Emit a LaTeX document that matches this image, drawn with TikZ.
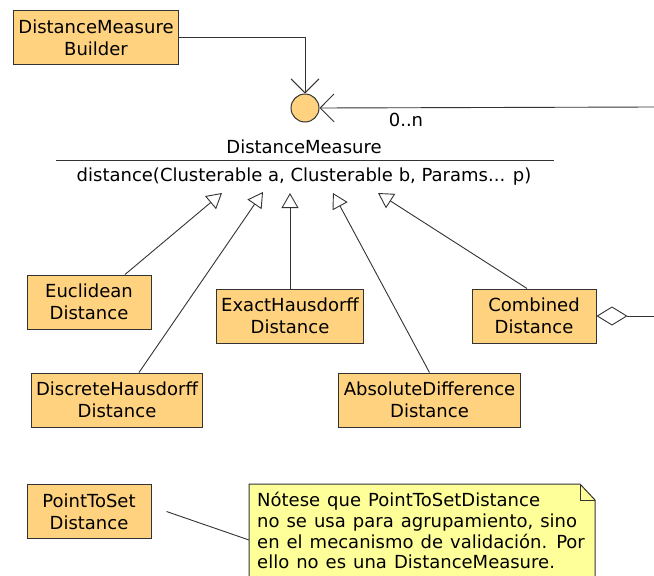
\documentclass[tikz,border=0pt]{standalone}
\usepackage{fontspec}
\setmainfont{DejaVu Sans}
\usepackage{xcolor}
\usepackage{tikz}
\usetikzlibrary{arrows.meta, positioning}

\definecolor{clasefondo}{HTML}{FFD27F}
\definecolor{notafondo}{HTML}{FFFF99}
\definecolor{linea}{HTML}{333333}

\newcommand{\umltexto}{\fontsize{18}{22}\selectfont}
\newcommand{\notatexto}{\fontsize{18}{20.7}\selectfont\spaceskip=7pt plus 2pt\relax}

\tikzset{
    clase/.style={draw=linea, fill=clasefondo, align=center, line width=1pt,
        inner xsep=5pt, minimum width=124pt, minimum height=54pt, font=\umltexto},
    gen/.style={draw=linea, line width=0.9pt, -{Triangle[open, length=15pt, width=17pt, fill=white]}},
    dep/.style={draw=linea, line width=0.9pt, -{Straight Barb[length=14pt, width=28pt]}},
    agr/.style={draw=linea, line width=0.9pt, {Diamond[open, length=31pt, width=19pt, fill=white]}-},
}

\begin{document}
\begin{tikzpicture}[x=1pt, y=-1pt]
    \useasboundingbox (0,0) rectangle (654,576);

    % Interfaz DistanceMeasure (piruleta) y su operación
    \node[circle, draw=linea, fill=clasefondo, line width=1pt, minimum size=28pt, inner sep=0pt] (iface) at (305,108) {};
    \node[font=\umltexto] (dmname) at (304,147) {DistanceMeasure};
    \coordinate (sepL) at (56,160);
    \coordinate (sepR) at (554,160);
    \draw[linea, line width=1pt] (sepL) -- (sepR);
    \node[font=\umltexto] (dmop) at (304,177) {distance(Clusterable a, Clusterable b, Params... p)};

    % Clases
    \node[clase] (builder) at (96,37.5) {DistanceMeasure\\Builder};
    \node[clase] (euclid) at (89,302) {Euclidean\\Distance};
    \node[clase] (exact) at (290,316) {ExactHausdorff\\Distance};
    \node[clase] (combined) at (534,316) {Combined\\Distance};
    \node[clase] (discrete) at (117,400) {DiscreteHausdorff\\Distance};
    \node[clase] (absdiff) at (429.5,400) {AbsoluteDifference\\Distance};
    \node[clase] (pts) at (89,511.5) {PointToSet\\Distance};

    % Puntas de las generalizaciones
    \coordinate (g1) at (222,193);
    \coordinate (g2) at (263,192);
    \coordinate (g3) at (290,193);
    \coordinate (g4) at (333,193);
    \coordinate (g5) at (378,193);

    % Generalizaciones hacia DistanceMeasure
    \draw[gen] ([xshift=36pt]euclid.north) -- (g1);
    \draw[gen] ([xshift=22pt]discrete.north) -- (g2);
    \draw[gen] (exact.north) -- (g3);
    \draw[gen] (absdiff.north) -- (g4);
    \draw[gen] ([xshift=-7pt]combined.north) -- (g5);

    % Dependencias hacia la interfaz
    \draw[dep] (builder.east) -| (iface.north);
    \coordinate (extA) at (654,107);
    \draw[dep] (extA) -- (iface.east);
    \node[font=\umltexto] (mult) at (406,120) {0..n};

    % Agregación desde CombinedDistance
    \coordinate (extB) at (654,316);
    \draw[agr] (combined.east) -- (extB);

    % Nota con esquina doblada
    \coordinate (nNW) at (249,484);
    \coordinate (nF) at (580,484);
    \coordinate (nE) at (595,500);
    \coordinate (nSE) at (595,590);
    \coordinate (nSW) at (249,590);
    \draw[linea, fill=notafondo, line width=1pt] (nNW) -- (nF) -- (nE) -- (nSE) -- (nSW) -- cycle;
    \draw[linea, line width=1pt] (nF) -- (nF |- nE) -- (nE);
    \node[anchor=north west, align=left, inner sep=0pt, font=\notatexto] (nota) at (257,492)
        {Nótese que PointToSetDistance\\no se usa para agrupamiento, sino\\en el mecanismo de validación. Por\\ello no es una DistanceMeasure.};
    \coordinate (nW) at (249,540);
    \draw[linea, line width=0.9pt] ([xshift=15pt]pts.east) -- (nW);
\end{tikzpicture}
\end{document}
